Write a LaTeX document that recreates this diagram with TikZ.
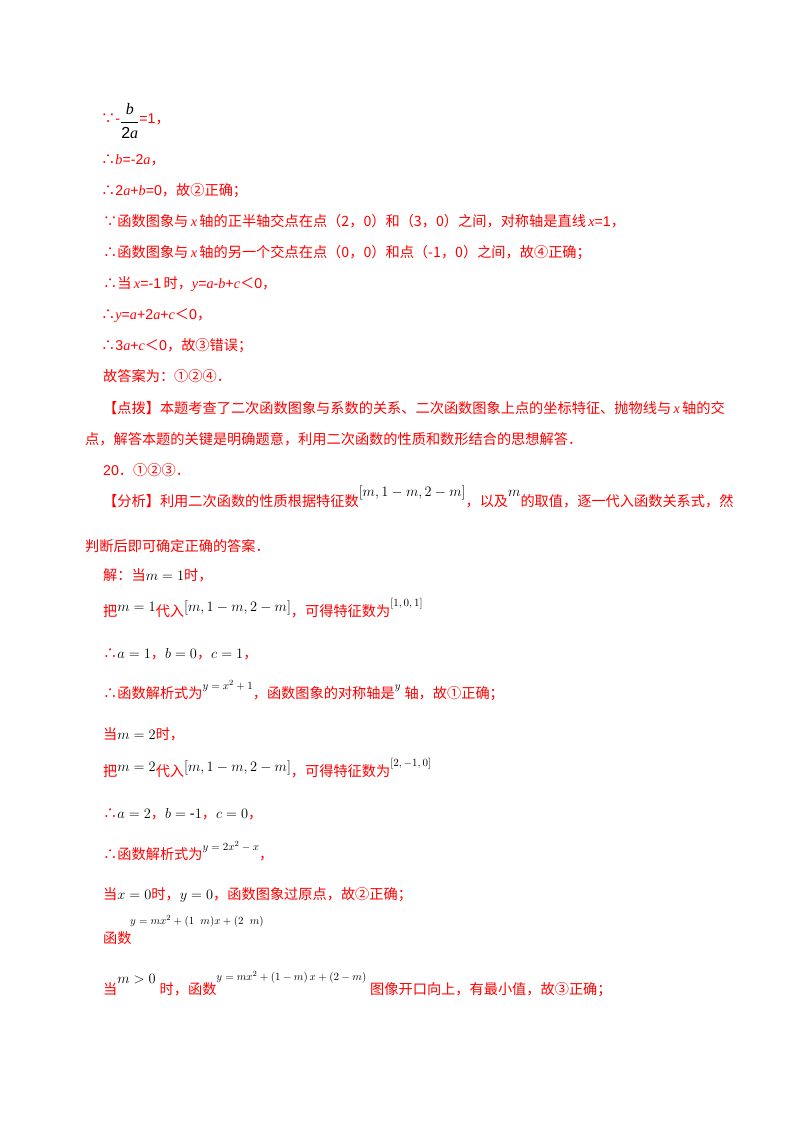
\documentclass[tikz,border=0pt]{standalone}
\usepackage{amsmath,amssymb}
\usepackage{fontspec}
\setmainfont{Liberation Sans}
\newfontfamily\cjk{Noto Sans CJK SC}
\newfontfamily\tms{Liberation Serif}
\newcommand{\C}[1]{{\cjk #1}}
\newcommand{\I}[1]{{\tms\itshape #1}}
\newcommand{\M}[1]{\textcolor{black}{\fontsize{14.5}{16}\selectfont$#1$}}
\newcommand{\Ms}[1]{\textcolor{black}{\fontsize{11}{12}\selectfont$#1$}}
\begin{document}
\begin{tikzpicture}[x=1pt,y=-1pt,
  ln/.style={anchor=base west,inner sep=0pt,text=red,font=\fontsize{14.2}{17}\selectfont}]
\useasboundingbox[fill=white] (0,0) rectangle (800,1132);
\node[ln] (l1) at (101,123) {\C{∵}-\raisebox{-0.45ex}{\textcolor{black}{\fontsize{16}{18}\selectfont$\dfrac{\text{\I{b}}}{\text{2\I{a}}}$}}=1\C{，}};
\node[ln] (l2) at (101,164) {\C{∴}\I{b}=-2\I{a}\C{，}};
\node[ln] (l3) at (101,195) {\C{∴}2\I{a}+\I{b}=0\C{，故②正确；}};
\node[ln] (l4) at (103,226) {\C{∵函数图象与}\,\I{x}\,\C{轴的正半轴交点在点（2，0）和（3，0）之间，对称轴是直线}\,\I{x}=1\C{，}};
\node[ln] (l5) at (103,257) {\C{∴函数图象与}\,\I{x}\,\C{轴的另一个交点在点（0，0）和点（-1，0）之间，故④正确；}};
\node[ln] (l6) at (103,288) {\C{∴当}\,\I{x}=-1\,\C{时，}\I{y}=\I{a}-\I{b}+\I{c}\C{＜}0\C{，}};
\node[ln] (l7) at (101,319) {\C{∴}\I{y}=\I{a}+2\I{a}+\I{c}\C{＜}0\C{，}};
\node[ln] (l8) at (101,350) {\C{∴}3\I{a}+\I{c}\C{＜}0\C{，故③错误；}};
\node[ln] (l9) at (103,381) {\C{故答案为：①②④．}};
\node[ln] (l10) at (103,413) {\C{【点拨】本题考查了二次函数图象与系数的关系、二次函数图象上点的坐标特征、抛物线与}\,\I{x}\,\C{轴的交}};
\node[ln] (l11) at (85,444) {\C{点，解答本题的关键是明确题意，利用二次函数的性质和数形结合的思想解答．}};
\node[ln] (l12) at (103,475) {20\C{．①②③．}};
\node[ln] (l13) at (103,506) {\C{【分析】利用二次函数的性质根据特征数}\raisebox{1.3ex}{\M{\left[m,1-m,2-m\right]}}\C{，以及}\raisebox{1.3ex}{\M{m}}\C{的取值，逐一代入函数关系式，然}};
\node[ln] (l14) at (85,551) {\C{判断后即可确定正确的答案．}};
\node[ln] (l15) at (103,580) {\C{解：当}\M{m=1}\C{时，}};
\node[ln] (l16) at (103,616) {\C{把}\raisebox{0.6ex}{\M{m=1}}\C{代入}\raisebox{0.6ex}{\M{\left[m,1-m,2-m\right]}}\C{，可得特征数为}\raisebox{1.3ex}{\Ms{[1,0,1]}}};
\node[ln] (l17) at (103,658) {\C{∴}\M{a=1}\C{，}\M{b=0}\C{，}\M{c=1}\C{，}};
\node[ln] (l18) at (103,698) {\C{∴函数解析式为}\raisebox{1.2ex}{\Ms{y=x^2+1}}\C{，函数图象的对称轴是}\raisebox{1.2ex}{\Ms{y}}\;\C{轴，故①正确；}};
\node[ln] (l19) at (103,739) {\C{当}\M{m=2}\C{时，}};
\node[ln] (l20) at (103,776) {\C{把}\raisebox{0.6ex}{\M{m=2}}\C{代入}\raisebox{0.6ex}{\M{\left[m,1-m,2-m\right]}}\C{，可得特征数为}\raisebox{1.3ex}{\Ms{[2,-1,0]}}};
\node[ln] (l21) at (103,818) {\C{∴}\M{a=2}\C{，}\M{b=\text{-}1}\C{，}\M{c=0}\C{，}};
\node[ln] (l22) at (103,859) {\C{∴函数解析式为}\raisebox{1.2ex}{\Ms{y=2x^2-x}}\C{，}};
\node[ln] (l23) at (103,899) {\C{当}\M{x=0}\C{时，}\M{y=0}\C{，函数图象过原点，故②正确；}};
\node[ln] (l24) at (103,943) {\C{函数}};
\node[ln] (l24f) at (130,924) {\Ms{y=mx^2+(1\ \ m)x+(2\ \ m)}};
\node[ln] (l25) at (103,994) {\C{当}\raisebox{1.4ex}{\M{m>0}}\;\C{时，函数}\raisebox{1.8ex}{\Ms{y=mx^2+\left(1-m\right)x+\left(2-m\right)}}\;\C{图像开口向上，有最小值，故③正确；}};
\end{tikzpicture}
\end{document}
